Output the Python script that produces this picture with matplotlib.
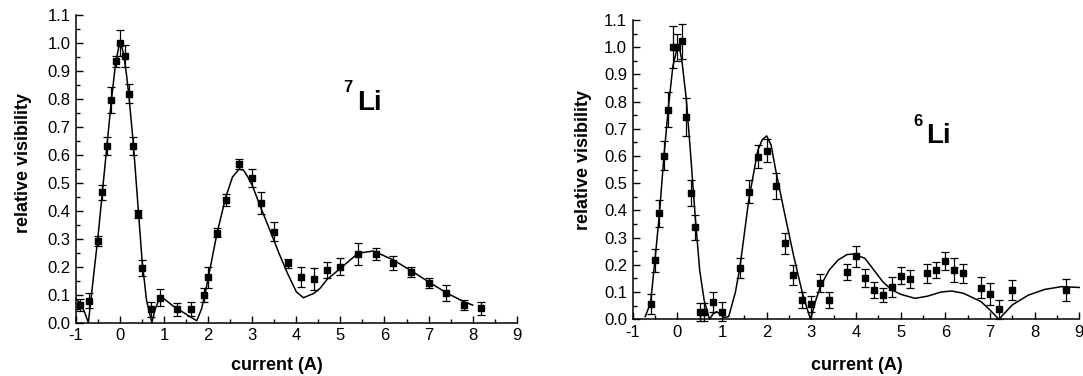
import matplotlib
matplotlib.use('agg')
import matplotlib.pyplot as plt
from matplotlib.ticker import MultipleLocator, FormatStrFormatter

plt.rcParams['font.family'] = ['Liberation Sans', 'DejaVu Sans']
plt.rcParams['axes.unicode_minus'] = False

# 7Li measured visibility
li7_x = [-0.9, -0.7, -0.5, -0.4, -0.3, -0.2, -0.1, 0.0, 0.1, 0.2, 0.3, 0.4, 0.5,
         0.7, 0.9, 1.3, 1.6, 1.9, 2.0, 2.2, 2.4, 2.7, 3.0, 3.2, 3.5, 3.8, 4.1,
         4.4, 4.7, 5.0, 5.4, 5.8, 6.2, 6.6, 7.0, 7.4, 7.8, 8.2]
li7_y = [0.063, 0.079, 0.291, 0.466, 0.631, 0.795, 0.933, 1.0, 0.952, 0.818, 0.631,
         0.388, 0.194, 0.048, 0.089, 0.048, 0.049, 0.099, 0.162, 0.322, 0.438, 0.566,
         0.517, 0.426, 0.325, 0.212, 0.162, 0.156, 0.188, 0.2, 0.245, 0.245, 0.212,
         0.181, 0.141, 0.106, 0.064, 0.051]
li7_err = [0.021, 0.027, 0.018, 0.027, 0.031, 0.045, 0.02, 0.046, 0.038, 0.033, 0.033,
           0.015, 0.029, 0.027, 0.031, 0.024, 0.024, 0.025, 0.038, 0.016, 0.02, 0.018,
           0.033, 0.039, 0.033, 0.016, 0.036, 0.04, 0.03, 0.03, 0.039, 0.02, 0.025,
           0.018, 0.018, 0.027, 0.018, 0.023]

# 7Li fit curve
li7_fit_x = [-1.0, -0.9, -0.8, -0.72, -0.6, -0.5, -0.4, -0.3, -0.2, -0.1, -0.03, 0.02,
             0.08, 0.15, 0.2, 0.3, 0.4, 0.5, 0.6, 0.72, 0.8, 0.9, 1.0, 1.2, 1.4, 1.6,
             1.74, 1.85, 1.95, 2.0, 2.2, 2.4, 2.55, 2.7, 2.8, 2.9, 3.0, 3.2, 3.4, 3.6,
             3.8, 4.0, 4.16, 4.4, 4.54, 4.7, 5.0, 5.4, 5.75, 6.2, 6.6, 7.0, 7.4, 7.8, 8.0]
li7_fit_y = [0.085, 0.07, 0.035, 0.0, 0.17, 0.31, 0.47, 0.63, 0.79, 0.93, 0.985, 0.995,
             0.96, 0.88, 0.81, 0.64, 0.43, 0.22, 0.08, 0.0, 0.05, 0.09, 0.085, 0.06, 0.04,
             0.02, 0.007, 0.05, 0.12, 0.16, 0.32, 0.45, 0.52, 0.548, 0.545, 0.52, 0.49,
             0.408, 0.33, 0.25, 0.176, 0.11, 0.089, 0.105, 0.123, 0.155, 0.194, 0.248,
             0.256, 0.224, 0.186, 0.146, 0.107, 0.075, 0.063]

# 6Li measured visibility
li6_x = [-0.6, -0.5, -0.4, -0.3, -0.2, -0.1, 0.0, 0.1, 0.2, 0.3, 0.4, 0.5, 0.6, 0.8,
         1.0, 1.4, 1.6, 1.8, 2.0, 2.2, 2.4, 2.6, 2.8, 3.0, 3.2, 3.4, 3.8, 4.0, 4.2,
         4.4, 4.6, 4.8, 5.0, 5.2, 5.6, 5.8, 6.0, 6.2, 6.4, 6.8, 7.0, 7.2, 7.5, 8.7]
li6_y = [0.055, 0.217, 0.39, 0.602, 0.77, 1.0, 1.0, 1.022, 0.743, 0.463, 0.338, 0.027,
         0.027, 0.062, 0.027, 0.189, 0.469, 0.598, 0.62, 0.49, 0.279, 0.162, 0.071,
         0.055, 0.135, 0.07, 0.174, 0.232, 0.152, 0.107, 0.089, 0.119, 0.16, 0.148,
         0.169, 0.181, 0.214, 0.181, 0.169, 0.116, 0.093, 0.037, 0.108, 0.108]
li6_err = [0.037, 0.042, 0.05, 0.052, 0.064, 0.078, 0.05, 0.065, 0.069, 0.048, 0.046,
           0.034, 0.034, 0.037, 0.035, 0.037, 0.043, 0.042, 0.043, 0.047, 0.038, 0.036,
           0.031, 0.03, 0.033, 0.029, 0.031, 0.039, 0.032, 0.029, 0.026, 0.036, 0.031,
           0.032, 0.034, 0.031, 0.033, 0.043, 0.034, 0.038, 0.042, 0.035, 0.038, 0.039]

# 6Li fit curve
li6_fit_x = [-0.72, -0.6, -0.5, -0.4, -0.3, -0.2, -0.1, 0.0, 0.05, 0.1, 0.2, 0.3, 0.4,
             0.5, 0.6, 0.72, 0.8, 0.88, 0.95, 1.05, 1.15, 1.3, 1.4, 1.6, 1.8, 1.9, 2.0,
             2.1, 2.2, 2.4, 2.6, 2.8, 2.98, 3.1, 3.2, 3.4, 3.6, 3.8, 3.95, 4.2, 4.4,
             4.6, 4.8, 5.0, 5.32, 5.6, 5.9, 6.14, 6.4, 6.8, 7.0, 7.2, 7.5, 7.86, 8.23,
             8.6, 9.0]
li6_fit_y = [0.01, 0.06, 0.22, 0.39, 0.6, 0.78, 0.93, 1.0, 0.995, 0.953, 0.81, 0.6,
             0.377, 0.18, 0.07, 0.0, 0.02, 0.028, 0.02, 0.007, 0.01, 0.1, 0.19, 0.44,
             0.62, 0.66, 0.674, 0.64, 0.55, 0.39, 0.236, 0.096, 0.0, 0.07, 0.12, 0.181,
             0.218, 0.238, 0.24, 0.224, 0.181, 0.138, 0.108, 0.092, 0.077, 0.085, 0.1,
             0.104, 0.096, 0.065, 0.034, 0.0, 0.053, 0.089, 0.11, 0.12, 0.117]


def style_axes(ax):
    ax.set_xlim(-1, 9)
    ax.set_ylim(0, 1.1)
    ax.spines['top'].set_visible(False)
    ax.spines['right'].set_visible(False)
    ax.spines['left'].set_linewidth(1.1)
    ax.spines['bottom'].set_linewidth(1.1)
    ax.xaxis.set_major_locator(MultipleLocator(1))
    ax.xaxis.set_minor_locator(MultipleLocator(0.5))
    ax.yaxis.set_major_locator(MultipleLocator(0.1))
    ax.yaxis.set_minor_locator(MultipleLocator(0.05))
    ax.yaxis.set_major_formatter(FormatStrFormatter('%.1f'))
    ax.tick_params(which='major', direction='in', length=5, width=1, labelsize=12, pad=4)
    ax.tick_params(which='minor', direction='in', length=3, width=1)
    ax.set_xlabel('current (A)', fontsize=13, fontweight='bold')
    ax.set_ylabel('relative visibility', fontsize=13, fontweight='bold')


def draw_panel(ax, x, y, err, fit_x, fit_y):
    ax.plot(fit_x, fit_y, color='black', lw=1.1, clip_on=False)
    ax.errorbar(x, y, yerr=err, fmt='s', color='black', ms=4.2, elinewidth=0.9,
                capsize=2.8, capthick=0.9, clip_on=False)


fig = plt.figure(figsize=(10.83, 3.76), dpi=100)
ax1 = fig.add_axes([0.0702, 0.1418, 0.4069, 0.8191])
ax2 = fig.add_axes([0.5842, 0.1508, 0.4124, 0.7960])

draw_panel(ax1, li7_x, li7_y, li7_err, li7_fit_x, li7_fit_y)
draw_panel(ax2, li6_x, li6_y, li6_err, li6_fit_x, li6_fit_y)
style_axes(ax1)
style_axes(ax2)

ax1.xaxis.set_label_coords(0.456, -0.113)
ax1.yaxis.set_label_coords(-0.100, 0.517)
ax2.xaxis.set_label_coords(0.502, -0.127)
ax2.yaxis.set_label_coords(-0.091, 0.532)

# isotope labels
ax1.text(5.38, 0.76, 'Li', fontsize=20, fontweight='bold', ha='left', va='baseline')
ax1.text(5.27, 0.824, '7', fontsize=12, fontweight='bold', ha='right', va='baseline')
ax2.text(5.57, 0.648, 'Li', fontsize=20, fontweight='bold', ha='left', va='baseline')
ax2.text(5.5, 0.711, '6', fontsize=12, fontweight='bold', ha='right', va='baseline')

fig.savefig('out.png', dpi=100)
